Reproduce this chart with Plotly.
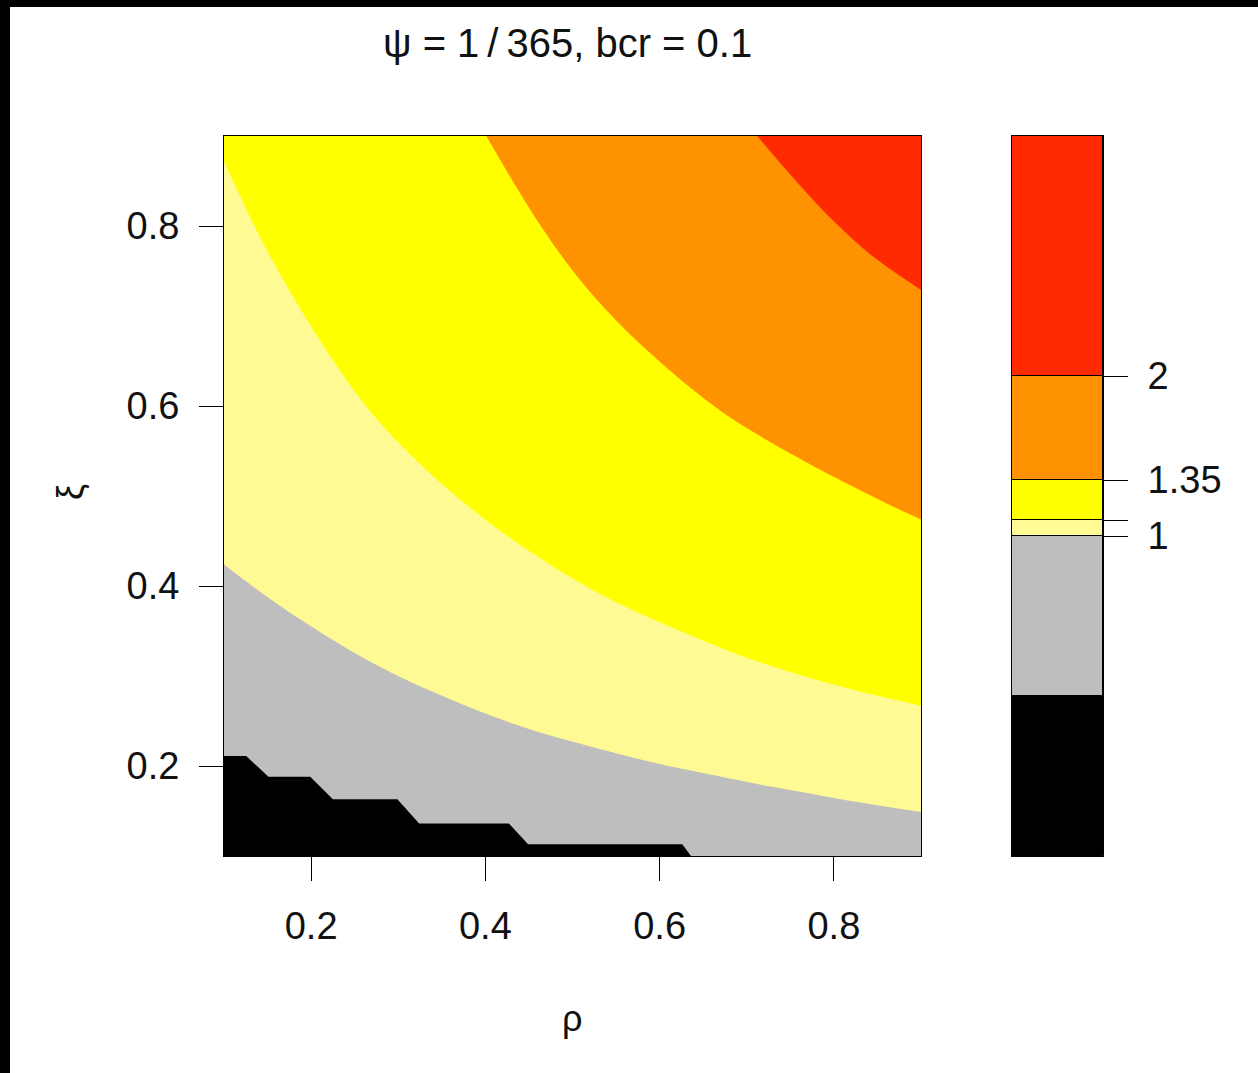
import plotly.graph_objects as go

# ---------------- data ----------------
x_range = [0.1, 0.9]
y_range = [0.1, 0.9]

levels = [-1, 0, 1, 1.1, 1.35, 2, 3.5]
level_colors = ["#000000", "#BEBEBE", "#FFFA94", "#FFFF00", "#FF9200", "#FF2A00"]

cb_tickvals = [1, 1.1, 1.35, 2]
cb_ticktext = ["1", "", "1.35", "2"]

main_tickvals = [0.2, 0.4, 0.6, 0.8]

# contour boundaries (rho, xi)
# level 0 (black | gray) : left edge -> bottom edge
b0_x = [0.1, 0.1255, 0.151, 0.199, 0.225, 0.299, 0.324, 0.427, 0.449, 0.626, 0.636]
b0_y = [0.211, 0.211, 0.188, 0.188, 0.163, 0.163, 0.136, 0.136, 0.113, 0.113, 0.1]
# level 1 (gray | light yellow) : left edge -> right edge
b1_x = [0.1, 0.151, 0.202, 0.253, 0.304, 0.355, 0.406, 0.457, 0.508, 0.559, 0.610,
        0.661, 0.712, 0.763, 0.814, 0.9]
b1_y = [0.424, 0.387, 0.354, 0.324, 0.298, 0.276, 0.256, 0.239, 0.225, 0.212, 0.200,
        0.190, 0.180, 0.171, 0.162, 0.149]
# level 1.1 (light yellow | yellow) : left edge -> right edge
b2_x = [0.1, 0.136, 0.164, 0.195, 0.229, 0.268, 0.317, 0.376, 0.447, 0.534, 0.651,
        0.722, 0.809, 0.9]
b2_y = [0.872, 0.798, 0.747, 0.696, 0.645, 0.594, 0.543, 0.492, 0.441, 0.390, 0.339,
        0.313, 0.288, 0.267]
# level 1.35 (yellow | orange) : top edge -> right edge
b3_x = [0.401, 0.432, 0.465, 0.503, 0.549, 0.605, 0.671, 0.758, 0.860, 0.9]
b3_y = [0.9, 0.849, 0.798, 0.747, 0.696, 0.645, 0.594, 0.543, 0.492, 0.474]
# level 2 (orange | red) : top edge -> right edge
b4_x = [0.712, 0.753, 0.799, 0.845, 0.9]
b4_y = [0.9, 0.854, 0.806, 0.766, 0.729]

# ---------------- figure ----------------
W, H = 1258, 1073
x0, x1 = x_range
y0, y1 = y_range

fig = go.Figure()

# base region (lowest band) fills the panel
fig.add_trace(go.Scatter(x=[x0, x1, x1, x0, x0], y=[y0, y0, y1, y1, y0],
                         fill="toself", fillcolor=level_colors[0], mode="lines",
                         line=dict(width=0, color=level_colors[0]), hoverinfo="skip",
                         showlegend=False))

# band above level 0 (staircase, straight segments)
fig.add_trace(go.Scatter(x=b0_x + [x1, x1, x0, b0_x[0]], y=b0_y + [y0, y1, y1, b0_y[0]],
                         fill="toself", fillcolor=level_colors[1], mode="lines",
                         line=dict(width=0, color=level_colors[1]), hoverinfo="skip",
                         showlegend=False))

# smooth bands: fill between the boundary (spline) and the top edge of the panel
for bx, by, col in [(b1_x, b1_y, level_colors[2]), (b2_x, b2_y, level_colors[3]),
                    (b3_x, b3_y, level_colors[4]), (b4_x, b4_y, level_colors[5])]:
    fig.add_trace(go.Scatter(x=[x0, x1], y=[y1, y1], mode="lines",
                             line=dict(width=0, color=col), hoverinfo="skip",
                             showlegend=False))
    fig.add_trace(go.Scatter(x=bx, y=by, mode="lines", fill="tonexty", fillcolor=col,
                             line=dict(width=0, color=col, shape="spline", smoothing=1),
                             hoverinfo="skip", showlegend=False))

# colour key
fig.add_trace(go.Bar(x=[0] * (len(levels) - 1),
                     y=[levels[i + 1] - levels[i] for i in range(len(levels) - 1)],
                     base=levels[:-1], width=[1] * (len(levels) - 1),
                     marker=dict(color=level_colors, line=dict(color="black", width=1)),
                     xaxis="x2", yaxis="y2", hoverinfo="skip", showlegend=False))

font_family = "Liberation Sans, Arial, sans-serif"
tick_font = dict(family=font_family, size=38, color="#111111")

ydom = [(H - 856) / H, (H - 136) / H]

fig.update_layout(
    width=W, height=H,
    margin=dict(l=0, r=0, t=0, b=0),
    paper_bgcolor="white", plot_bgcolor="white",
    barmode="overlay", bargap=0,
    xaxis=dict(domain=[224 / W, 921 / W], range=x_range, tickvals=main_tickvals,
               ticktext=[str(v) for v in main_tickvals],
               ticks="outside", ticklen=24, tickwidth=1, tickcolor="black",
               showline=True, mirror=True, linecolor="black", linewidth=1,
               showgrid=False, zeroline=False, tickfont=tick_font,
               ticklabelstandoff=12, anchor="y"),
    yaxis=dict(domain=ydom, range=y_range, tickvals=main_tickvals,
               ticktext=[str(v) for v in main_tickvals],
               ticks="outside", ticklen=24, tickwidth=1, tickcolor="black",
               showline=True, mirror=True, linecolor="black", linewidth=1,
               showgrid=False, zeroline=False, tickfont=tick_font,
               ticklabelstandoff=12, anchor="x"),
    xaxis2=dict(domain=[1012 / W, 1103 / W], range=[-0.5, 0.5], showticklabels=False,
                ticks="", showline=True, mirror=True, linecolor="black", linewidth=1,
                showgrid=False, zeroline=False, anchor="y2"),
    yaxis2=dict(domain=ydom, range=[levels[0], levels[-1]], side="right",
                tickvals=cb_tickvals, ticktext=cb_ticktext,
                ticks="outside", ticklen=24, tickwidth=1, tickcolor="black",
                showline=True, mirror=True, linecolor="black", linewidth=1,
                showgrid=False, zeroline=False, tickfont=tick_font,
                ticklabelstandoff=12, anchor="x2"),
    annotations=[
        dict(text="\u03c8 = 1\u2009/\u2009365, bcr = 0.1", x=567 / W, y=1 - 43 / H,
             xref="paper", yref="paper", xanchor="center", yanchor="middle",
             showarrow=False,
             font=dict(family=font_family, size=40, color="#111111")),
        dict(text="\u03c1", x=572 / W, y=1 - 1018 / H, xref="paper", yref="paper",
             xanchor="center", yanchor="middle", showarrow=False,
             font=dict(family=font_family, size=36, color="#111111")),
        dict(text="\u03be", x=70 / W, y=1 - 492 / H, xref="paper", yref="paper",
             xanchor="center", yanchor="middle", showarrow=False, textangle=-90,
             font=dict(family=font_family, size=36, color="#111111")),
    ],
    shapes=[
        dict(type="rect", xref="paper", yref="paper", x0=0, x1=10 / W, y0=0, y1=1,
             fillcolor="black", line=dict(width=0)),
        dict(type="rect", xref="paper", yref="paper", x0=0, x1=1, y0=1 - 7 / H, y1=1,
             fillcolor="black", line=dict(width=0)),
    ],
)

fig.write_html("out.html", config={"displayModeBar": False},
               post_script="document.body.style.margin='0';document.body.style.overflow='hidden';")
